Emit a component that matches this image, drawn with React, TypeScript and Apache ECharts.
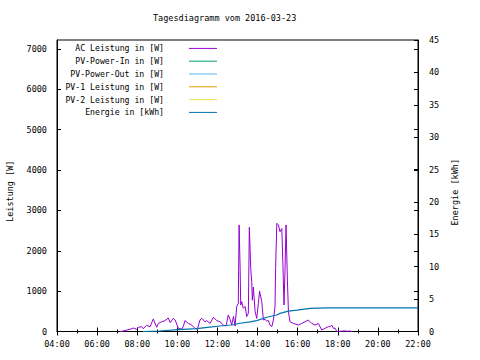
import React, { useEffect, useRef } from 'react';
import * as echarts from 'echarts';

const chartTitle = 'Tagesdiagramm vom 2016-03-23';
const leftAxisName = 'Leistung [W]';
const rightAxisName = 'Energie [kWh]';
const seriesNames = [
  'AC Leistung in [W]',
  'PV-Power-In in [W]',
  'PV-Power-Out in [W]',
  'PV-1 Leistung in [W]',
  'PV-2 Leistung in [W]',
  'Energie in [kWh]',
];
const seriesColors = ['#9400d3', '#009e73', '#56b4e9', '#e69f00', '#f0e442', '#0072b2'];

// AC power (hours of day, W)
const acHours = [
  7.14, 7.31, 7.48, 7.64, 7.81, 7.97, 8.06, 8.22, 8.3, 8.47,
  8.64, 8.8, 8.97, 9.05, 9.22, 9.39, 9.55, 9.64, 9.8, 9.89,
  10.05, 10.22, 10.3, 10.38, 10.55, 10.72, 10.88, 11.0, 11.13, 11.22,
  11.38, 11.47, 11.63, 11.8, 11.97, 12.13, 12.3, 12.43, 12.54, 12.63,
  12.71, 12.8, 12.88, 12.96, 13.04, 13.08, 13.13, 13.16, 13.21, 13.29,
  13.38, 13.46, 13.54, 13.59, 13.66, 13.71, 13.74, 13.79, 13.88, 13.96,
  14.04, 14.1, 14.21, 14.29, 14.37, 14.46, 14.54, 14.62, 14.71, 14.79,
  14.87, 14.9, 14.96, 15.04, 15.12, 15.21, 15.26, 15.32, 15.37, 15.42,
  15.49, 15.54, 15.62, 15.79, 16.04, 16.2, 16.37, 16.53, 16.7, 16.87,
  17.03, 17.2, 17.37, 17.53, 17.62, 17.7, 17.78, 17.87, 17.95, 18.03,
  18.2, 18.35, 18.5, 18.6, 18.7,
];
const acWatts = [
  0, 12, 37, 54, 86, 54, 104, 120, 70, 153,
  120, 310, 104, 200, 240, 270, 335, 220, 325, 285,
  80, 55, 130, 270, 200, 160, 80, 55, 285, 325,
  240, 270, 200, 350, 270, 240, 160, 135, 410, 300,
  160, 370, 135, 615, 700, 2640, 1600, 655, 740, 575,
  620, 370, 450, 2580, 1560, 1230, 775, 1100, 490, 325,
  700, 1000, 740, 285, 300, 260, 270, 160, 120, 285,
  615, 1560, 2680, 2640, 2470, 2550, 1730, 655, 1560, 2640,
  1230, 490, 240, 200, 160, 200, 240, 285, 200, 160,
  200, 37, 80, 120, 120, 160, 80, 80, 0, 0,
  10, 15, 5, 12, 0,
];

// Energy (hours of day, kWh)
const energyHours = [8.29, 9.1, 10.03, 10.97, 11.72, 12.13, 12.71, 13.13, 13.63, 13.96, 14.46, 14.96, 15.12, 15.54, 15.96, 16.62, 17.45, 22.0];
const energyKwh = [0, 0.08, 0.28, 0.43, 0.7, 0.85, 1.0, 1.27, 1.5, 1.67, 2.2, 2.55, 2.8, 3.15, 3.3, 3.56, 3.64, 3.64];

const xMin = 4;
const xMax = 22;
const xInterval = 2;
const leftMax = 7220;
const leftInterval = 1000;
const rightMax = 45;
const rightInterval = 5;

const FONT = 'DejaVu Sans Mono';
const FS = 8.5;

const fmtHour = (v: number) => (v < 10 ? '0' : '') + Math.round(v) + ':00';
const fmtPlain = (v: number) => String(Math.round(v));

export default function App() {
  const ref = useRef<HTMLDivElement>(null);
  useEffect(() => {
    document.body.style.margin = '0';
    const chart = echarts.init(ref.current!, undefined, { renderer: 'svg' });
    const acData = acHours.map((h, i) => [h, acWatts[i]]);
    const energyData = energyHours.map((h, i) => [h, energyKwh[i]]);
    const labelStyle = { color: '#000', fontFamily: FONT, fontSize: FS };
    const tickStyle = { color: '#000', width: 1 };
    const option: any = {
      animation: false,
      backgroundColor: '#fff',
      title: {
        text: chartTitle,
        left: 153,
        top: 13,
        padding: 0,
        textStyle: { color: '#000', fontFamily: FONT, fontSize: FS, fontWeight: 'normal' },
      },
      legend: {
        orient: 'vertical',
        right: 263,
        top: 42,
        padding: 0,
        itemGap: 0,
        align: 'right',
        icon: 'rect',
        itemWidth: 28,
        itemHeight: 1,
        selectedMode: false,
        data: seriesNames,
        textStyle: { color: '#000', fontFamily: FONT, fontSize: 8.2, lineHeight: 12.8, padding: [0, 20, 0, 0] },
      },
      grid: {
        left: 57,
        right: 62,
        top: 40,
        bottom: 28.5,
        show: true,
        outerBoundsMode: 'none',
        containLabel: false,
        borderColor: '#000',
        borderWidth: 1,
        backgroundColor: 'transparent',
      },
      xAxis: [
        {
          type: 'value',
          min: xMin,
          max: xMax,
          interval: xInterval,
          axisLine: { show: true, lineStyle: { color: '#000' } },
          axisTick: { show: true, inside: true, length: 4, lineStyle: tickStyle },
          minorTick: { show: true, splitNumber: 2, length: 2, lineStyle: tickStyle },
          splitLine: { show: false },
          axisLabel: { ...labelStyle, margin: 8, formatter: fmtHour },
        },
        {
          type: 'value',
          position: 'top',
          min: xMin,
          max: xMax,
          interval: xInterval,
          axisLine: { show: false },
          axisTick: { show: true, inside: true, length: 4, lineStyle: tickStyle },
          minorTick: { show: true, splitNumber: 2, length: 2, lineStyle: tickStyle },
          splitLine: { show: false },
          axisLabel: { show: false },
        },
      ],
      yAxis: [
        {
          type: 'value',
          position: 'left',
          min: 0,
          max: leftMax,
          interval: leftInterval,
          name: leftAxisName,
          nameLocation: 'middle',
          nameGap: 43,
          nameTextStyle: { color: '#000', fontFamily: FONT, fontSize: FS, padding: [0, 11, 0, 0] },
          axisLine: { show: true, lineStyle: { color: '#000' } },
          axisTick: { show: true, inside: true, length: 4, lineStyle: tickStyle },
          splitLine: { show: false },
          axisLabel: { ...labelStyle, margin: 10, showMaxLabel: false, formatter: fmtPlain },
        },
        {
          type: 'value',
          position: 'right',
          min: 0,
          max: rightMax,
          interval: rightInterval,
          name: rightAxisName,
          nameLocation: 'middle',
          nameGap: 30,
          nameTextStyle: { color: '#000', fontFamily: FONT, fontSize: FS, padding: [0, 13, 0, 0] },
          axisLine: { show: true, lineStyle: { color: '#000' } },
          axisTick: { show: true, inside: true, length: 4, lineStyle: tickStyle },
          splitLine: { show: false },
          axisLabel: { ...labelStyle, margin: 11, formatter: fmtPlain },
        },
        {
          type: 'value',
          position: 'right',
          min: 0,
          max: leftMax,
          interval: leftInterval,
          axisLine: { show: false },
          axisTick: { show: true, inside: true, length: 4, lineStyle: tickStyle },
          splitLine: { show: false },
          axisLabel: { show: false },
        },
      ],
      series: [
        {
          name: seriesNames[0],
          type: 'line',
          xAxisIndex: 0,
          yAxisIndex: 0,
          data: acData,
          showSymbol: false,
          symbol: 'none',
          color: seriesColors[0],
          lineStyle: { width: 1, color: seriesColors[0] },
        },
        ...[1, 2, 3, 4].map((k) => ({
          name: seriesNames[k],
          type: 'line',
          xAxisIndex: 0,
          yAxisIndex: 0,
          data: [],
          showSymbol: false,
          symbol: 'none',
          color: seriesColors[k],
          lineStyle: { width: 1, color: seriesColors[k] },
        })),
        {
          name: seriesNames[5],
          type: 'line',
          xAxisIndex: 0,
          yAxisIndex: 1,
          data: energyData,
          showSymbol: false,
          symbol: 'none',
          color: seriesColors[5],
          lineStyle: { width: 1.2, color: seriesColors[5] },
        },
      ],
    };
    chart.setOption(option);
    return () => chart.dispose();
  }, []);
  return <div ref={ref} style={{ width: 480, height: 360 }} />;
}
